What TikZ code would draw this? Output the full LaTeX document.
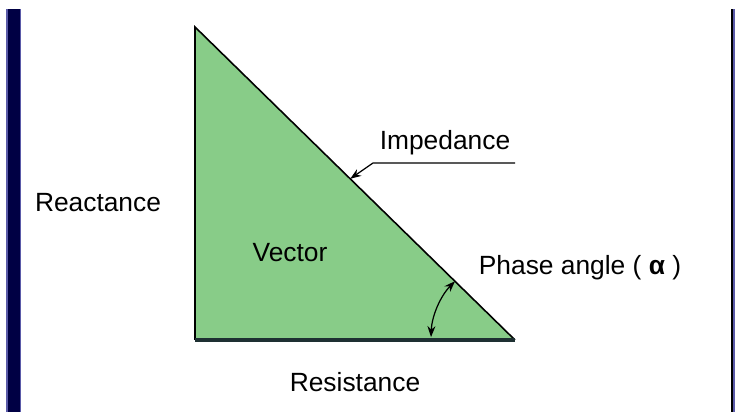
\documentclass[tikz,border=0pt]{standalone}
\usepackage{fontspec}
\setmainfont{Liberation Sans}
\usetikzlibrary{arrows.meta, positioning, calc}
\definecolor{navybar}{HTML}{000044}
\definecolor{navyedge}{HTML}{5A5AA8}
\definecolor{leafgreen}{HTML}{88CC88}
\definecolor{baseink}{HTML}{1E3032}
\tikzset{
  lbl/.style={font=\fontsize{15}{17}\selectfont, text=black, inner sep=1pt},
  edge/.style={line width=0.9pt, color=black},
  lead/.style={-{Stealth[length=2.2mm, width=1.6mm]}, line width=0.7pt, color=black},
}
\begin{document}
\begin{tikzpicture}[x=0.02cm, y=0.02cm]
  \useasboundingbox (0,0) rectangle (735,412);
  % side bars
  \fill[navyedge] (6,0) rectangle (21,403);
  \fill[navybar] (8,0) rectangle (20,403);
  \fill[navyedge] (731,0) rectangle (735,403);
  \fill[black] (731,0) rectangle (732.5,403);
  % triangle
  \coordinate (top) at (195,385);
  \coordinate (bl) at (195,72);
  \coordinate (br) at (515,72);
  \fill[leafgreen] (top) -- (bl) -- (br) -- cycle;
  \draw[edge] (br) -- (top) -- (bl);
  \draw[baseink, line width=2.2pt] (bl) -- (br);
  % labels
  \node[lbl] (react) at (98,209) {Reactance};
  \node[lbl] (vec) at (290,159) {Vector};
  \node[lbl] (resist) at (355,30) {Resistance};
  \node[lbl] (imp) at (445,269) {Impedance};
  \node[lbl] (phase) at (580,144) {Phase angle ( \textbf{α} )};
  % impedance leader
  \coordinate (ulend) at (515,249);
  \coordinate (ulstart) at (373,249);
  \coordinate (hyp) at ($(top)!0.485!(br)$);
  \draw[lead] (ulend) -- (ulstart) -- (hyp);
  % phase angle arc
  \draw[{Stealth[length=2.2mm, width=1.6mm]}-{Stealth[length=2.2mm, width=1.6mm]}, line width=0.7pt]
    ([shift={(135.6:84)}]br) arc[start angle=135.6, end angle=178, radius=84];
\end{tikzpicture}
\end{document}
